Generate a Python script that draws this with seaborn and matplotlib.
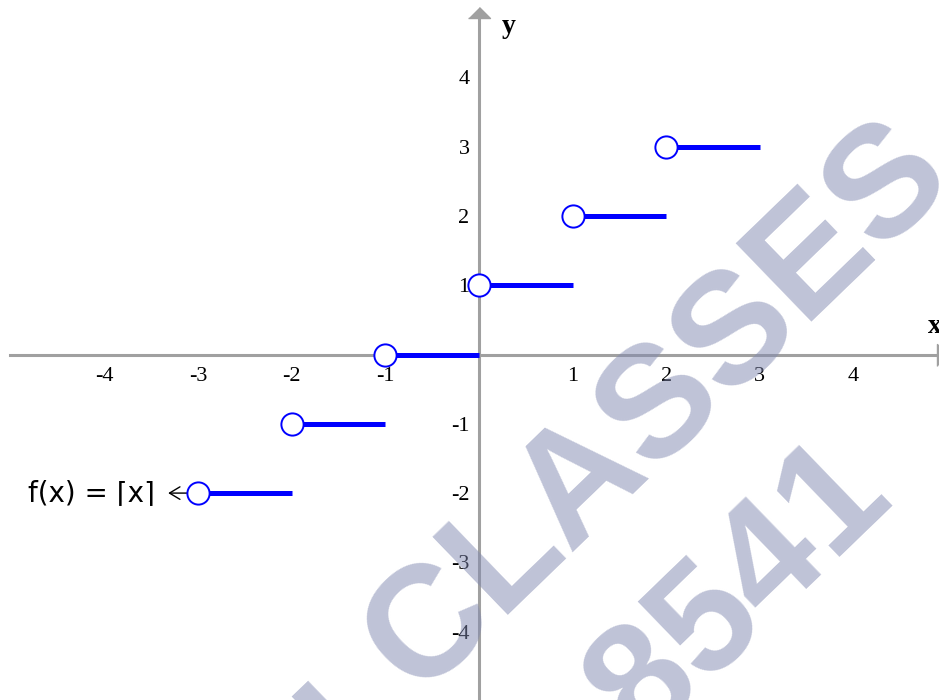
import pandas as pd
import matplotlib.pyplot as plt
import seaborn as sns

# dados da função teto f(x) = ceil(x)
x_inicio = [-3, -2, -1, 0, 1, 2]
x_fim = [-2, -1, 0, 1, 2, 3]
y_valor = [-2, -1, 0, 1, 2, 3]
marcas = [-4, -3, -2, -1, 1, 2, 3, 4]

cinza = '#a0a0a0'
cor_marca = '#8088b0'

sns.set_style('white')
plt.rcParams['font.family'] = ['Liberation Serif', 'DejaVu Serif']
plt.rcParams['axes.unicode_minus'] = False
plt.rcParams['text.color'] = 'black'

segmentos = pd.DataFrame({
    'x': x_inicio + x_fim,
    'y': y_valor + y_valor,
    'seg': list(range(len(x_inicio))) * 2,
})
circulos = pd.DataFrame({'x': x_inicio, 'y': y_valor})

fig = plt.figure(figsize=(9.39, 7), dpi=100)
ax = fig.add_axes([0, 0, 1, 1])
ax.set_xlim(-5.117, 4.915)
ax.set_ylim(-4.986, 5.116)

# eixos no centro
for lado in ['top', 'right']:
    ax.spines[lado].set_visible(False)
for lado in ['left', 'bottom']:
    ax.spines[lado].set_position(('data', 0))
    ax.spines[lado].set_color(cinza)
    ax.spines[lado].set_linewidth(2.2)
ax.spines['bottom'].set_bounds(-5.01, 4.89)
ax.spines['left'].set_bounds(-5.0, 4.86)
ax.set_xticks(marcas)
ax.set_yticks(marcas)
ax.set_xticklabels([str(m) for m in marcas])
ax.set_yticklabels([str(m) for m in marcas])
ax.tick_params(direction='inout', length=11.5, width=1.1, color=cinza,
               labelsize=16, labelcolor='black')
ax.tick_params(axis='x', pad=3)
ax.tick_params(axis='y', pad=1)

# pontas de seta dos eixos
ax.plot([0], [4.86], marker=[(-1, 0), (1, 0), (0, 1)], ms=15.8, color=cinza, clip_on=False, zorder=3)
ax.plot([4.89], [0], marker=[(0, -1), (0, 1), (1, 0)], ms=15.8, color=cinza, clip_on=False, zorder=3)
ax.text(0.32, 4.73, 'y', fontsize=20, fontweight='bold', ha='center', va='center')
ax.text(4.87, 0.40, 'x', fontsize=20, fontweight='bold', ha='center', va='center')

# degraus
sns.lineplot(data=segmentos, x='x', y='y', units='seg', estimator=None, sort=False,
             color='blue', lw=3.6, solid_capstyle='butt', ax=ax, legend=False, zorder=4)
sns.scatterplot(data=circulos, x='x', y='y', s=256, color='white', edgecolor='blue',
                linewidth=1.4, ax=ax, zorder=5)
ax.set_xlabel('')
ax.set_ylabel('')

# rótulo da função
ax.annotate('', xy=(-3.35, -2), xytext=(-3.06, -2),
            arrowprops=dict(arrowstyle='->,head_length=0.75,head_width=0.45', color='black', lw=1))
ax.text(-3.46, -2, 'f(x) = ⌈x⌉', family=['DejaVu Sans'], fontsize=20, ha='right', va='center')

# marca d'água
estilo = dict(family=['Liberation Sans', 'DejaVu Sans'], fontsize=114, fontweight='bold',
              color=cor_marca, alpha=0.5, rotation=44, rotation_mode='anchor', zorder=10)
fig.text(0.7008, 0.417, 'CLASSES', ha='center', va='center', **estilo)
fig.text(0.788, 0.154, '8541', ha='center', va='center', **estilo)
fig.text(0.330, 0.053, 'H', ha='right', va='top', **estilo)

fig.savefig('out.png', dpi=100)
